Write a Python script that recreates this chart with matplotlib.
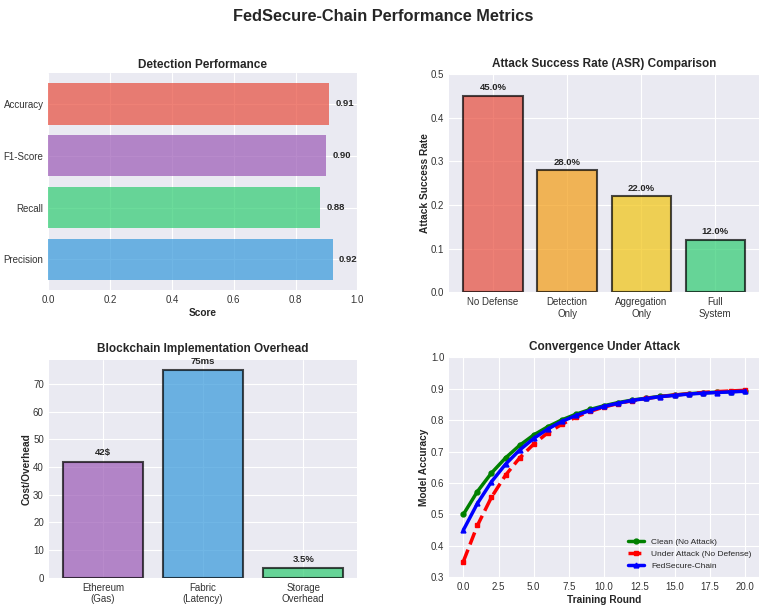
import numpy as np
import matplotlib
matplotlib.use('Agg')
import matplotlib.pyplot as plt

plt.style.use('seaborn-v0_8-darkgrid')
plt.rcParams['font.family'] = ['Liberation Sans', 'DejaVu Sans']

# Detection performance
det_metrics = ['Precision', 'Recall', 'F1-Score', 'Accuracy']
det_scores = [0.92, 0.88, 0.90, 0.91]
det_colors = ['#3498db', '#2ecc71', '#9b59b6', '#e74c3c']

# Attack success rate
asr_labels = ['No Defense', 'Detection\nOnly', 'Aggregation\nOnly', 'Full\nSystem']
asr_values = [0.45, 0.28, 0.22, 0.12]
asr_colors = ['#e74c3c', '#f39c12', '#f1c40f', '#2ecc71']

# Blockchain overhead
bc_labels = ['Ethereum\n(Gas)', 'Fabric\n(Latency)', 'Storage\nOverhead']
bc_values = [42, 75, 3.5]
bc_texts = ['42$', '75ms', '3.5%']
bc_colors = ['#9b59b6', '#3498db', '#2ecc71']

# Convergence
rounds = list(range(21))
acc_clean = [0.500, 0.573, 0.632, 0.680, 0.720, 0.753, 0.779, 0.801, 0.819, 0.834, 0.846,
             0.856, 0.864, 0.870, 0.876, 0.880, 0.884, 0.887, 0.889, 0.891, 0.893]
acc_attack = [0.350, 0.465, 0.555, 0.625, 0.680, 0.724, 0.760, 0.787, 0.810, 0.828, 0.842,
              0.853, 0.862, 0.869, 0.875, 0.880, 0.884, 0.888, 0.891, 0.893, 0.895]
acc_fed = [0.450, 0.535, 0.604, 0.660, 0.705, 0.742, 0.772, 0.796, 0.815, 0.831, 0.844,
           0.854, 0.863, 0.869, 0.875, 0.879, 0.883, 0.886, 0.888, 0.890, 0.892]

fig = plt.figure(figsize=(7.67, 6.11), dpi=100)
fig.suptitle('FedSecure-Chain Performance Metrics', fontsize=11.8, fontweight='bold', y=0.986)

ax1 = fig.add_axes([0.0632, 0.5254, 0.4026, 0.3547])
ax2 = fig.add_axes([0.5857, 0.5216, 0.4039, 0.3573])
ax3 = fig.add_axes([0.0635, 0.0545, 0.4025, 0.3563])
ax4 = fig.add_axes([0.5857, 0.0551, 0.4039, 0.3601])

tfs = 8.5
lfs = 7.3
kfs = 7
afs = 6.8

# top left
bars = ax1.barh(det_metrics, det_scores, color=det_colors, alpha=0.7)
for b, v in zip(bars, det_scores):
    ax1.text(v + 0.02, b.get_y() + b.get_height() / 2, f'{v:.2f}', va='center',
             fontweight='bold', fontsize=afs)
ax1.set_xlim(0, 1)
ax1.set_xlabel('Score', fontweight='bold', fontsize=lfs, labelpad=2)
ax1.set_title('Detection Performance', fontweight='bold', fontsize=tfs, pad=4)

# top right
bars = ax2.bar(asr_labels, asr_values, color=asr_colors, alpha=0.7,
               edgecolor='black', linewidth=1.5)
for b, v in zip(bars, asr_values):
    ax2.text(b.get_x() + b.get_width() / 2, v + 0.008, f'{v*100:.1f}%', ha='center',
             va='bottom', fontweight='bold', fontsize=afs)
ax2.set_ylim(0, 0.5)
ax2.set_ylabel('Attack Success Rate', fontweight='bold', fontsize=lfs, labelpad=1)
ax2.set_title('Attack Success Rate (ASR) Comparison', fontweight='bold', fontsize=tfs, pad=5)

# bottom left
bars = ax3.bar(bc_labels, bc_values, color=bc_colors, alpha=0.7,
               edgecolor='black', linewidth=1.5)
for b, v, t in zip(bars, bc_values, bc_texts):
    ax3.text(b.get_x() + b.get_width() / 2, v + 1.5, t, ha='center',
             va='bottom', fontweight='bold', fontsize=afs)
ax3.set_ylabel('Cost/Overhead', fontweight='bold', fontsize=lfs, labelpad=1)
ax3.set_title('Blockchain Implementation Overhead', fontweight='bold', fontsize=tfs, pad=5.5)

# bottom right
ax4.plot(rounds, acc_clean, color='green', marker='o', linestyle='-', linewidth=2.5,
         markersize=3.5, label='Clean (No Attack)')
ax4.plot(rounds, acc_attack, color='red', marker='s', linestyle='--', linewidth=2.5,
         markersize=3.5, label='Under Attack (No Defense)')
ax4.plot(rounds, acc_fed, color='blue', marker='^', linestyle='-', linewidth=2.5,
         markersize=3.5, label='FedSecure-Chain')
ax4.set_ylim(0.3, 1.0)
ax4.set_xlabel('Training Round', fontweight='bold', fontsize=lfs, labelpad=2)
ax4.set_ylabel('Model Accuracy', fontweight='bold', fontsize=lfs, labelpad=1)
ax4.set_title('Convergence Under Attack', fontweight='bold', fontsize=tfs, pad=5)
ax4.legend(loc='lower right', fontsize=6)

for ax in (ax1, ax2, ax3, ax4):
    ax.tick_params(labelsize=kfs, labelcolor='#333333')

fig.savefig('out.png', dpi=100)
